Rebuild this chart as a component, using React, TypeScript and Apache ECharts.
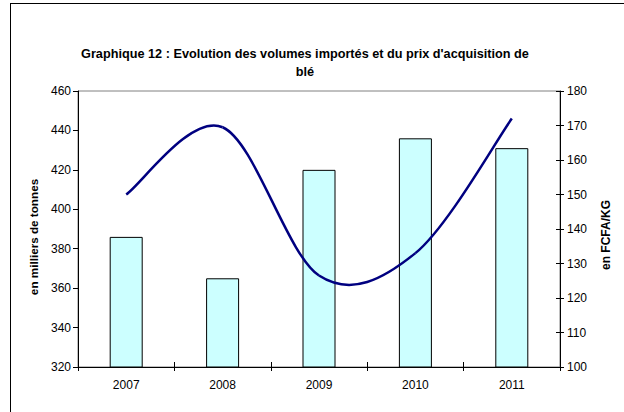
import React, { useEffect, useRef } from "react";
import * as echarts from "echarts";

const years = ["2007", "2008", "2009", "2010", "2011"];
const volumes = [386, 365, 420, 436, 431];
const prices = [150, 169.5, 126.5, 133, 172];
const titleLine1 = "Graphique 12 : Evolution des volumes importés et du prix d'acquisition de";
const titleLine2 = "blé";
const leftAxisName = "en milliers de tonnes";
const rightAxisName = "en FCFA/KG";

const FONT = "'Liberation Sans', Arial, sans-serif";

export default function App() {
  const ref = useRef<HTMLDivElement>(null);
  useEffect(() => {
    if (!ref.current) return;
    const chart = echarts.init(ref.current, null, { renderer: "svg" });
    const priceData = prices.map((v, i) => [i, v]);
    const renderSegment = (params: any, api: any) => {
      const i = params.dataIndex;
      const n = prices.length;
      if (i >= n - 1) return null;
      const P = (j: number) => {
        const k = Math.max(0, Math.min(n - 1, j));
        return api.coord([k, prices[k]]);
      };
      const p0 = P(i - 1), p1 = P(i), p2 = P(i + 1), p3 = P(i + 2);
      const t = 1 / 6;
      return {
        type: "bezierCurve",
        shape: {
          x1: p1[0], y1: p1[1],
          cpx1: p1[0] + (p2[0] - p0[0]) * t, cpy1: p1[1] + (p2[1] - p0[1]) * t,
          cpx2: p2[0] - (p3[0] - p1[0]) * t, cpy2: p2[1] - (p3[1] - p1[1]) * t,
          x2: p2[0], y2: p2[1],
        },
        style: { stroke: "#000080", lineWidth: 2.5, fill: "none" },
      };
    };
    chart.setOption({
      animation: false,
      backgroundColor: "#ffffff",
      textStyle: { fontFamily: FONT },
      graphic: [
        { type: "line", shape: { x1: 10, y1: 3.5, x2: 624, y2: 3.5 }, style: { stroke: "#000", lineWidth: 1 } },
        { type: "line", shape: { x1: 10.5, y1: 3, x2: 10.5, y2: 412 }, style: { stroke: "#000", lineWidth: 1 } },
        {
          type: "text", x: 305, y: 47,
          style: { text: titleLine1, fontFamily: FONT, fontSize: 12.7, fontWeight: "bold", fill: "#000", textAlign: "center" },
        },
        {
          type: "text", x: 305, y: 65,
          style: { text: titleLine2, fontFamily: FONT, fontSize: 12.7, fontWeight: "bold", fill: "#000", textAlign: "center" },
        },
        {
          type: "text", x: 33, y: 237, rotation: Math.PI / 2,
          style: { text: leftAxisName, fontFamily: FONT, fontSize: 11.7, fontWeight: "bold", fill: "#000", textAlign: "center", textVerticalAlign: "middle" },
        },
        {
          type: "text", x: 606, y: 235, rotation: Math.PI / 2,
          style: { text: rightAxisName, fontFamily: FONT, fontSize: 12, fontWeight: "bold", fill: "#000", textAlign: "center", textVerticalAlign: "middle" },
        },
      ],
      grid: { left: 78, right: 64, top: 91, bottom: 45, show: true, borderColor: "#808080", borderWidth: 1, backgroundColor: "transparent" },
      xAxis: [
        {
          type: "category",
          data: years,
          axisLine: { lineStyle: { color: "#000", width: 1 } },
          axisTick: { show: true, length: 4, lineStyle: { color: "#000" } },
          axisLabel: { color: "#000", fontSize: 12, fontFamily: FONT, margin: 12 },
          splitLine: { show: false },
        },
        {
          type: "category",
          data: years,
          position: "bottom",
          axisLine: { show: false },
          axisTick: { show: true, length: 5, inside: true, lineStyle: { color: "#000" } },
          axisLabel: { show: false },
          splitLine: { show: false },
        },
      ],
      yAxis: [
        {
          type: "value", min: 320, max: 460, interval: 20, position: "left",
          axisLine: { show: true, lineStyle: { color: "#000", width: 1 } },
          axisTick: { show: true, length: 5, lineStyle: { color: "#000" } },
          axisLabel: { color: "#000", fontSize: 12, fontFamily: FONT, margin: 7 },
          splitLine: { show: false },
        },
        {
          type: "value", min: 100, max: 180, interval: 10, position: "right",
          axisLine: { show: true, lineStyle: { color: "#000", width: 1 } },
          axisTick: { show: true, length: 4, lineStyle: { color: "#000" } },
          axisLabel: { color: "#000", fontSize: 12, fontFamily: FONT, margin: 7 },
          splitLine: { show: false },
        },
        {
          type: "value", min: 100, max: 180, interval: 10, position: "right",
          axisLine: { show: false },
          axisTick: { show: true, length: 4, inside: true, lineStyle: { color: "#000" } },
          axisLabel: { show: false },
          splitLine: { show: false },
        },
      ],
      series: [
        {
          type: "bar", data: volumes, yAxisIndex: 0, xAxisIndex: 0, barWidth: 33,
          itemStyle: { color: "#CCFFFF", borderColor: "#000", borderWidth: 1 },
        },
        {
          type: "custom", data: priceData, xAxisIndex: 0, yAxisIndex: 1,
          encode: { x: 0, y: 1 },
          renderItem: renderSegment,
          z: 3,
        },
      ],
    });
    return () => chart.dispose();
  }, []);
  return <div ref={ref} style={{ width: 624, height: 412, position: "absolute", left: 0, top: 0 }} />;
}
